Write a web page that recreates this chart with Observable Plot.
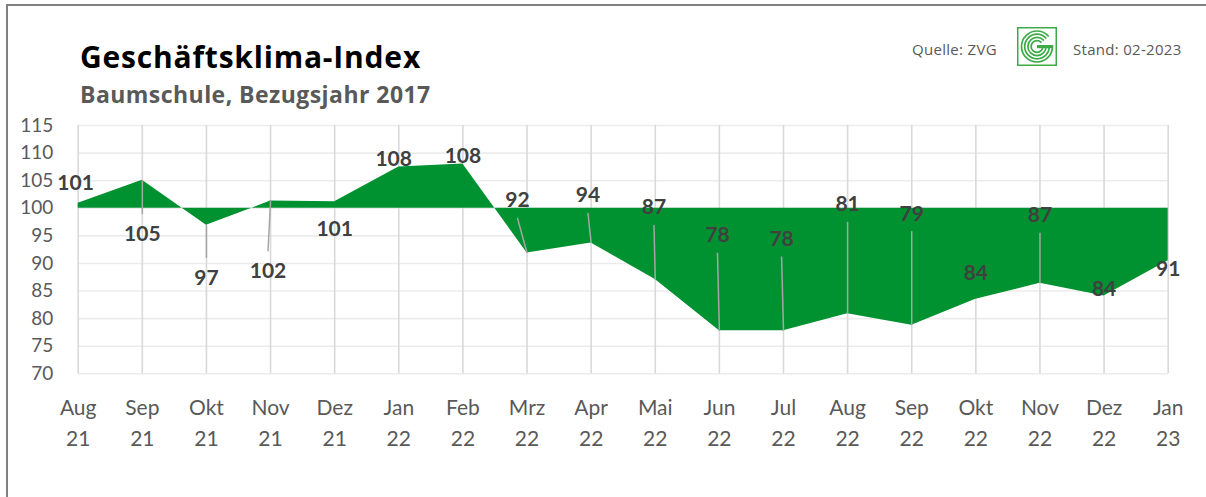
<!DOCTYPE html>
<html>
<head>
<meta charset="utf-8">
<script src="https://cdn.jsdelivr.net/npm/d3@7"></script>
<script src="https://cdn.jsdelivr.net/npm/@observablehq/plot@0.6"></script>
<style>
  html, body { margin: 0; padding: 0; background: #fff; }
  #page { position: relative; width: 1206px; height: 497px; overflow: hidden; font-family: Lato, "Open Sans", sans-serif; }
  #frame { position: absolute; left: 6px; top: 4px; width: 1200px; height: 520px; border-top: 2px solid #808080; border-left: 2px solid #808080; }
  #header { position: relative; height: 110px; }
  .title { position: absolute; left: 80px; top: 38.7px; font-family: "Open Sans", sans-serif; font-size: 30px; letter-spacing: 0.8px; line-height: 1.2; font-weight: bold; color: #000; white-space: nowrap; }
  .subtitle { position: absolute; left: 80px; top: 81.3px; font-family: "Open Sans", sans-serif; font-size: 23px; letter-spacing: 0.45px; line-height: 1.2; font-weight: bold; color: #595959; white-space: nowrap; }
  .src { position: absolute; top: 40.2px; font-family: "Open Sans", sans-serif; font-size: 15px; letter-spacing: 0.3px; line-height: 1.2; color: #595959; white-space: nowrap; }
  #logo { position: absolute; left: 1017px; top: 27px; }
  #chart svg { display: block; }
</style>
</head>
<body>
<div id="page">
  <div id="frame"></div>
  <div id="header">
    <div class="title">Geschäftsklima-Index</div>
    <div class="subtitle">Baumschule, Bezugsjahr 2017</div>
    <div class="src" style="left:912px">Quelle: ZVG</div>
    <svg id="logo" width="40" height="39" viewBox="0 0 40 39">
      <rect x="0.75" y="0.75" width="38.5" height="37.5" fill="#fff" stroke="#3daa48" stroke-width="1.5"/>
      <g fill="none" stroke="#3daa48" stroke-width="1.7">
        <circle cx="20" cy="19.5" r="15.5"/>
        <circle cx="20" cy="19.5" r="12.3"/>
        <circle cx="20" cy="19.5" r="9.1"/>
        <circle cx="20" cy="19.5" r="5.9"/>
      </g>
      <polygon points="20,19.5 38,4 38,18" fill="#fff"/>
      <rect x="20" y="18" width="16" height="3.2" fill="#3daa48"/>
    </svg>
    <div class="src" style="left:1073px">Stand: 02-2023</div>
  </div>
  <div id="chart"></div>
</div>
<script>
// Month tick labels (two lines)
const months = ["Aug","Sep","Okt","Nov","Dez","Jan","Feb","Mrz","Apr","Mai","Jun","Jul","Aug","Sep","Okt","Nov","Dez","Jan"];
const years  = ["21","21","21","21","21","22","22","22","22","22","22","22","22","22","22","22","22","23"];
// Plotted index values
const values = [100.9, 105.1, 96.9, 101.3, 101.2, 107.5, 108.0, 91.9, 93.7, 87.1, 77.8, 77.8, 80.9, 78.8, 83.5, 86.4, 84.1, 90.5];
// Data label texts
const labels = ["101","105","97","102","101","108","108","92","94","87","78","78","81","79","84","87","84","91"];
// Manual data label placement (in index units) as in the original
const labelY = [104.5, 95.3, 87.4, 88.6, 96.2, 108.8, 109.5, 101.4, 102.3, 100.1, 95.1, 94.4, 100.7, 99.0, 88.2, 98.7, 85.4, 89.0];
const labelShift = [-0.04, 0, 0, -0.04, 0, -0.08, 0, -0.15, -0.05, -0.02, -0.03, -0.03, 0, 0, 0, 0, 0, 0];
const hasLeader = [0,1,1,1,0,0,0,1,1,1,1,1,1,1,0,1,0,0];
const yTicks = d3.range(70, 116, 5);

const data = values.map((v, i) => ({i, v, label: labels[i], ly: labelY[i], lx: i + labelShift[i]}));
const leaders = data.filter((d, i) => hasLeader[i]).map(d => ({
  x1: d.lx, y1: d.ly > d.v ? d.ly - 3.15 : d.ly + 3.6, x2: d.i, y2: d.v
}));

const chart = Plot.plot({
  width: 1206,
  height: 387,
  marginTop: 15,
  marginBottom: 123.7,
  marginLeft: 77.7,
  marginRight: 38.3,
  style: {fontFamily: "Lato, 'Open Sans', sans-serif", color: "#595959", background: "transparent", overflow: "visible"},
  x: {domain: [0, 17], label: null},
  y: {domain: [70, 115], label: null},
  marks: [
    Plot.gridY(yTicks, {stroke: "#ececec", strokeOpacity: 1, strokeWidth: 1.6}),
    Plot.gridX(d3.range(18), {stroke: "#d9d9d9", strokeOpacity: 1, strokeWidth: 1.6}),
    Plot.areaY(data, {x: "i", y1: 100, y2: "v", fill: "#009230"}),
    Plot.link(leaders, {x1: "x1", y1: "y1", x2: "x2", y2: "y2", stroke: "#a6a6a6", strokeWidth: 1.5}),
    Plot.text(data, {x: "lx", y: "ly", text: "label", fontSize: 21, fontWeight: "bold", fill: "#404040"}),
    Plot.axisX(d3.range(18), {tickFormat: i => months[i] + "\n" + years[i], tickSize: 0, tickPadding: 19, fontSize: 21, lineHeight: 1.48, label: null}),
    Plot.axisY(yTicks, {tickSize: 0, tickPadding: 25, fontSize: 19, label: null})
  ]
});
document.getElementById("chart").appendChild(chart);
</script>
</body>
</html>
